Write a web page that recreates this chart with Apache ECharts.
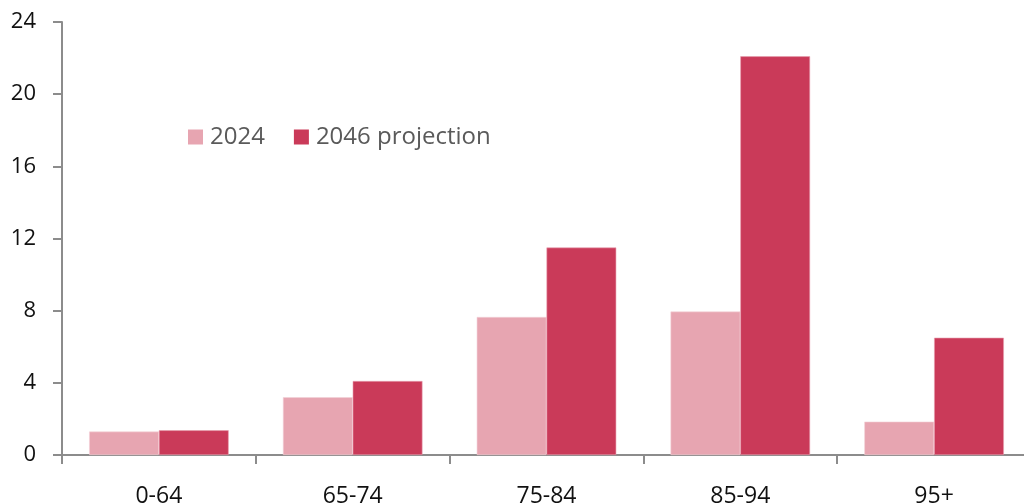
<!DOCTYPE html>
<html>
<head>
<meta charset="utf-8">
<script src="https://cdn.jsdelivr.net/npm/echarts@6/dist/echarts.min.js"></script>
<style>
html,body{margin:0;padding:0;background:#fff}
#c{width:1024px;height:503px}
</style>
</head>
<body>
<div id="c"></div>
<script>
const categories = ['0-64', '65-74', '75-84', '85-94', '95+'];
const series2024 = [1.3, 3.2, 7.65, 7.95, 1.85];
const series2046 = [1.37, 4.1, 11.5, 22.1, 6.5];
const yTicks = [0, 4, 8, 12, 16, 20, 24];

const chart = echarts.init(document.getElementById('c'), null, {renderer: 'canvas'});
const axisColor = '#8c8c8c';
chart.setOption({
  animation: false,
  textStyle: {fontFamily: 'Open Sans'},
  grid: {left: 62, top: 22, bottom: 48, right: -7, containLabel: false, outerBoundsMode: 'none'},
  legend: {
    left: 183, top: 120,
    itemWidth: 15, itemHeight: 15, itemGap: 29,
    icon: 'rect',
    itemStyle: {borderWidth: 0},
    textStyle: {fontSize: 24, color: '#5a5a5a', fontFamily: 'Open Sans', padding: [0, 0, 0, 2]},
    data: ['2024', '2046 projection']
  },
  xAxis: {
    type: 'category',
    data: categories,
    axisLine: {lineStyle: {color: axisColor, width: 2}},
    axisTick: {show: true, length: 9, lineStyle: {color: axisColor, width: 2}},
    axisLabel: {fontSize: 23, color: '#111', margin: 30, fontFamily: 'Open Sans'}
  },
  yAxis: {
    type: 'value',
    min: yTicks[0], max: yTicks[yTicks.length - 1], interval: 4,
    splitLine: {show: false},
    axisLine: {show: true, lineStyle: {color: axisColor, width: 2}},
    axisTick: {show: true, length: 9, lineStyle: {color: axisColor, width: 2}},
    axisLabel: {fontSize: 22, color: '#111', margin: 26, fontFamily: 'Open Sans'}
  },
  series: [
    {name: '2024', type: 'bar', data: series2024, barGap: '0%', barCategoryGap: '28%',
     itemStyle: {color: '#e7a5b1', borderColor: '#f3d2d8', borderWidth: 0.6}},
    {name: '2046 projection', type: 'bar', data: series2046, barGap: '0%', barCategoryGap: '28%',
     itemStyle: {color: '#ca3a59', borderColor: '#e8a0b0', borderWidth: 0.6}}
  ]
});
</script>
</body>
</html>
